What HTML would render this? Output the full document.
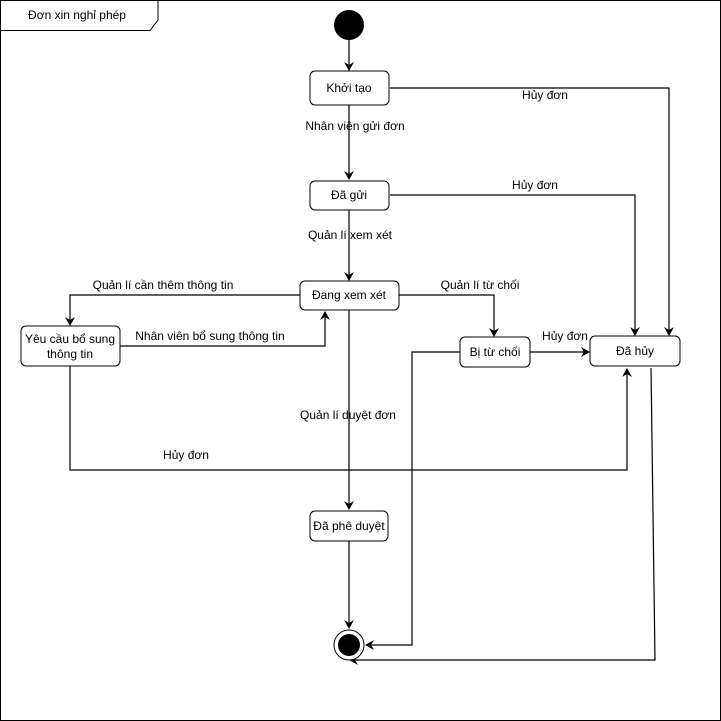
<!DOCTYPE html>
<html><head><meta charset="utf-8"><style>
html,body{margin:0;padding:0;background:#fff}
svg{display:block}
text{font-family:"Liberation Sans",sans-serif;font-size:12px;fill:#000}
</style></head><body>
<svg width="721" height="721" viewBox="0 0 721 721">
<defs><marker id="a" markerWidth="10" markerHeight="10" refX="8" refY="5" orient="auto" markerUnits="userSpaceOnUse"><path d="M0,0 L9,5 L0,10 L3,5 Z" fill="#000"/></marker></defs>
<rect x="0.5" y="0.5" width="720" height="720" fill="#fff" stroke="#000"/>
<polyline points="0.5,30.5 150,30.5 158,20 158,0.5" fill="none" stroke="#000"/>
<text x="77" y="19" text-anchor="middle" font-size="11">Đơn xin nghỉ phép</text>
<g fill="none" stroke="#000" stroke-width="1.2">
<line x1="349" y1="38" x2="349" y2="70" marker-end="url(#a)"/>
<line x1="349" y1="105" x2="349" y2="179" marker-end="url(#a)"/>
<polyline points="390,88 669,88 669,335" marker-end="url(#a)"/>
<polyline points="390,195 635,195 635,335" marker-end="url(#a)"/>
<line x1="349" y1="210" x2="349" y2="280" marker-end="url(#a)"/>
<polyline points="300,295 70,295 70,325" marker-end="url(#a)"/>
<polyline points="120,346 325,346 325,312" marker-end="url(#a)"/>
<polyline points="399,295 494,295 494,336" marker-end="url(#a)"/>
<line x1="530" y1="352" x2="589" y2="352" marker-end="url(#a)"/>
<line x1="349" y1="310" x2="349" y2="509" marker-end="url(#a)"/>
<polyline points="70,366 70,470 627,470 627,369" marker-end="url(#a)"/>
<polyline points="460,352 412,352 412,645 366,645" marker-end="url(#a)"/>
<polyline points="651,368 655,660 350,660" marker-end="url(#a)"/>
<line x1="349" y1="541" x2="349" y2="628" marker-end="url(#a)"/>
</g>
<circle cx="349" cy="25" r="15" fill="#000"/>
<circle cx="349" cy="645" r="15" fill="#fff" stroke="#000"/>
<circle cx="349" cy="645" r="11" fill="#000"/>
<g fill="#fff" stroke="#000">
<rect x="310" y="71" width="79" height="34" rx="5"/>
<rect x="310" y="181" width="79" height="29" rx="5"/>
<rect x="300" y="281" width="99" height="29" rx="5"/>
<rect x="21" y="326" width="99" height="40" rx="5"/>
<rect x="460" y="337" width="70" height="30" rx="5"/>
<rect x="590" y="336" width="90" height="30" rx="5"/>
<rect x="310" y="511" width="78" height="30" rx="5"/>
</g>
<g text-anchor="middle">
<text x="349" y="92">Khởi tạo</text>
<text x="349" y="199">Đã gửi</text>
<text x="349" y="299">Đang xem xét</text>
<text x="70" y="343">Yêu cầu bổ sung</text>
<text x="70" y="358">thông tin</text>
<text x="495" y="356">Bị từ chối</text>
<text x="635" y="355">Đã hủy</text>
<text x="349" y="530">Đã phê duyệt</text>
<text x="355" y="130">Nhân viên gửi đơn</text>
<text x="545" y="99">Hủy đơn</text>
<text x="535" y="189">Hủy đơn</text>
<text x="350" y="239">Quản lí xem xét</text>
<text x="163" y="289">Quản lí cần thêm thông tin</text>
<text x="210" y="340">Nhân viên bổ sung thông tin</text>
<text x="480" y="289">Quản lí từ chối</text>
<text x="565" y="340">Hủy đơn</text>
<text x="348" y="419">Quản lí duyệt đơn</text>
<text x="186" y="459">Hủy đơn</text>
</g>
</svg>
</body></html>
